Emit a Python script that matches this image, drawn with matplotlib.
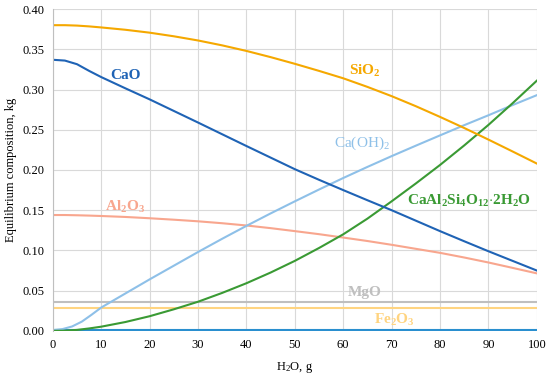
import numpy as np
import matplotlib
matplotlib.use('Agg')
import matplotlib.pyplot as plt

plt.rcParams['font.family'] = 'Liberation Serif'
plt.rcParams['mathtext.fontset'] = 'custom'
plt.rcParams['mathtext.rm'] = 'Liberation Serif'
plt.rcParams['mathtext.bf'] = 'Liberation Serif:bold'
plt.rcParams['mathtext.it'] = 'Liberation Serif:italic'

# water added, g
h2o = [0, 2.5, 5, 7.5, 10, 15, 20, 25, 30, 35, 40, 45, 50, 55, 60, 65, 70, 75, 80, 85, 90, 95, 100]
sio2 = [0.380, 0.3800, 0.3795, 0.3785, 0.3772, 0.3743, 0.3707, 0.3662, 0.3610, 0.3549, 0.3480, 0.3403, 0.3320, 0.3232,
        0.3140, 0.3033, 0.2918, 0.2793, 0.2660, 0.2522, 0.2378, 0.2230, 0.2080]
cao = [0.3370, 0.3360, 0.3315, 0.3232, 0.3155, 0.3015, 0.2878, 0.2734, 0.2590, 0.2444, 0.2298, 0.2154, 0.2010, 0.1878,
       0.1750, 0.1624, 0.1500, 0.1370, 0.1240, 0.1114, 0.0990, 0.0870, 0.0750]
al2o3 = [0.1440, 0.1440, 0.1437, 0.1433, 0.1428, 0.1416, 0.1400, 0.1382, 0.1362, 0.1338, 0.1310, 0.1277, 0.1240, 0.1202,
         0.1160, 0.1117, 0.1070, 0.1020, 0.0970, 0.0912, 0.0850, 0.0783, 0.0715]
mgo = [0.036] * len(h2o)
fe2o3 = [0.028] * len(h2o)
zero = [0.001] * len(h2o)

h2o_caoh = [0, 2, 4, 6, 8, 10, 15, 20, 25, 30, 35, 40, 45, 50, 55, 60, 65, 70, 75, 80, 85, 90, 95, 100]
caoh2 = [0.0010, 0.0022, 0.0055, 0.0115, 0.0200, 0.0290, 0.0465, 0.0640, 0.0810, 0.0980, 0.1145, 0.1305, 0.1460, 0.1610,
         0.1757, 0.1900, 0.2038, 0.2172, 0.2302, 0.2430, 0.2557, 0.2680, 0.2807, 0.2930]

h2o_cas = [0, 2.5, 5, 7.5, 10, 15, 20, 25, 30, 35, 40, 45, 50, 55, 60, 65, 70, 75, 80, 85, 90, 95, 100]
cas = [0.0000, 0.0002, 0.0012, 0.0030, 0.0052, 0.0110, 0.0182, 0.0268, 0.0362, 0.0472, 0.0592, 0.0725, 0.0870, 0.1030,
       0.1200, 0.1395, 0.1610, 0.1832, 0.2062, 0.2305, 0.2560, 0.2830, 0.3110]

fig, ax = plt.subplots(figsize=(5.5, 3.79), dpi=100)
fig.subplots_adjust(left=0.096, right=0.976, bottom=0.127, top=0.976)

lw = 1.5
ax.plot(h2o, zero, color='#2a8fcf', lw=lw)
ax.plot(h2o, fe2o3, color='#ffd480', lw=lw)
ax.plot(h2o, mgo, color='#bfbfbf', lw=lw)
ax.plot(h2o, al2o3, color='#f8a68e', lw=lw)
ax.plot(h2o_caoh, caoh2, color='#8ec0e8', lw=lw)
ax.plot(h2o_cas, cas, color='#3a9a34', lw=lw)
ax.plot(h2o, cao, color='#1f63b5', lw=lw)
ax.plot(h2o, sio2, color='#f5a800', lw=lw)

fs = 11
ax.text(15, 0.318, 'CaO', color='#1f63b5', fontsize=fs, fontweight='bold', ha='center', va='center')
ax.text(64.5, 0.323, r'SiO$_\mathbf{2}$', color='#f5a800', fontsize=fs, fontweight='bold', ha='center', va='center')
ax.text(63.8, 0.233, r'Ca(OH)$_2$', color='#8ec0e8', fontsize=fs, ha='center', va='center')
ax.text(15, 0.154, r'Al$_\mathbf{2}$O$_\mathbf{3}$', color='#f8a68e', fontsize=fs, fontweight='bold', ha='center', va='center')
ax.text(86, 0.162, r'CaAl$_\mathbf{2}$Si$_\mathbf{4}$O$_\mathbf{12}$$\mathbf{\cdot}$2H$_\mathbf{2}$O', color='#3a9a34',
        fontsize=fs, fontweight='bold', ha='center', va='center')
ax.text(64.5, 0.048, 'MgO', color='#bfbfbf', fontsize=fs, fontweight='bold', ha='center', va='center')
ax.text(70.5, 0.014, r'Fe$_\mathbf{2}$O$_\mathbf{3}$', color='#ffd480', fontsize=fs, fontweight='bold', ha='center', va='center')

ax.set_xlim(0, 100)
ax.set_ylim(0, 0.40)
ax.set_xticks(np.arange(0, 101, 10))
ax.set_yticks(np.arange(0, 0.401, 0.05))
ax.yaxis.set_major_formatter(matplotlib.ticker.FormatStrFormatter('%.2f'))
ax.grid(True, color='#d9d9d9', lw=0.8)
ax.set_axisbelow(True)
for s in ['top', 'right', 'bottom']:
    ax.spines[s].set_visible(False)
ax.spines['left'].set_color('#bfbfbf')
ax.tick_params(length=0, labelsize=9, pad=6)
ax.set_xlabel(r'H$_2$O, g', fontsize=9, labelpad=6)
ax.set_ylabel('Equilibrium composition, kg', fontsize=9, labelpad=4)

fig.savefig('out.png', dpi=100)
